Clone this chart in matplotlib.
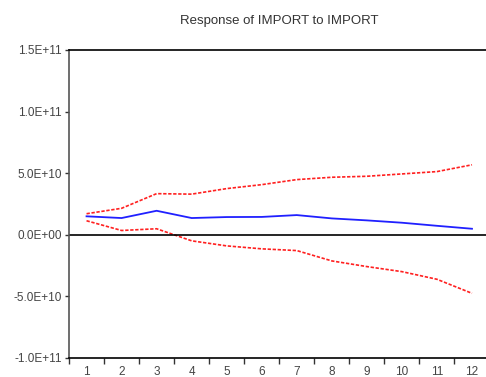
import matplotlib.pyplot as plt
import numpy as np
from matplotlib.ticker import FixedLocator

# periods and responses (units of 1E+10)
periods = list(range(1, 13))
response = [1.50, 1.36, 1.95, 1.36, 1.44, 1.45, 1.60, 1.33, 1.17, 0.98, 0.73, 0.49]
upper = [1.71, 2.15, 3.34, 3.30, 3.75, 4.07, 4.48, 4.67, 4.75, 4.94, 5.13, 5.68]
lower = [1.14, 0.35, 0.49, -0.49, -0.90, -1.14, -1.28, -2.12, -2.58, -2.99, -3.61, -4.75]
ytick_vals = [-1.0e11, -5.0e10, 0.0, 5.0e10, 1.0e11, 1.5e11]
ytick_labels = ['-1.0E+11', '-5.0E+10', '0.0E+00', '5.0E+10', '1.0E+11', '1.5E+11']

plt.rcParams['font.family'] = ['Liberation Sans', 'DejaVu Sans']

fig = plt.figure(figsize=(4.86, 3.77), dpi=100)
ax = fig.add_axes([0.142, 0.0504, 0.858, 0.817])

scale = 1e10
ax.plot(periods, np.array(response) * scale, color='#2020ff', lw=1.3)
ax.plot(periods, np.array(upper) * scale, color='#ff2020', lw=1.2, ls=(0, (2, 1)))
ax.plot(periods, np.array(lower) * scale, color='#ff2020', lw=1.2, ls=(0, (2, 1)))
ax.axhline(0, color='black', lw=1.2)

ax.set_xlim(0.5, 12.4)
ax.set_ylim(-1.0e11, 1.5e11)
ax.set_yticks(ytick_vals)
ax.set_yticklabels(ytick_labels, fontsize=8.5, color='#444444')
ax.set_xticks(periods)
ax.set_xticklabels([str(p) for p in periods], fontsize=8.5, color='#444444')
ax.xaxis.set_minor_locator(FixedLocator(np.arange(0.5, 13, 1)))
ax.tick_params(axis='x', which='major', length=0, pad=6)
ax.tick_params(axis='x', which='minor', length=4, width=1, color='#333333')
ax.tick_params(axis='y', length=3, width=1, color='#333333', pad=2)

ax.spines['right'].set_visible(False)
ax.spines['top'].set_linewidth(1.2)
ax.spines['bottom'].set_linewidth(1.2)
ax.spines['left'].set_color('#555555')
ax.spines['left'].set_linewidth(1.2)

fig.text(0.574, 0.945, 'Response of IMPORT to IMPORT', ha='center', va='center',
         fontsize=9.5, color='#333333')

plt.savefig('out.png', dpi=100)
